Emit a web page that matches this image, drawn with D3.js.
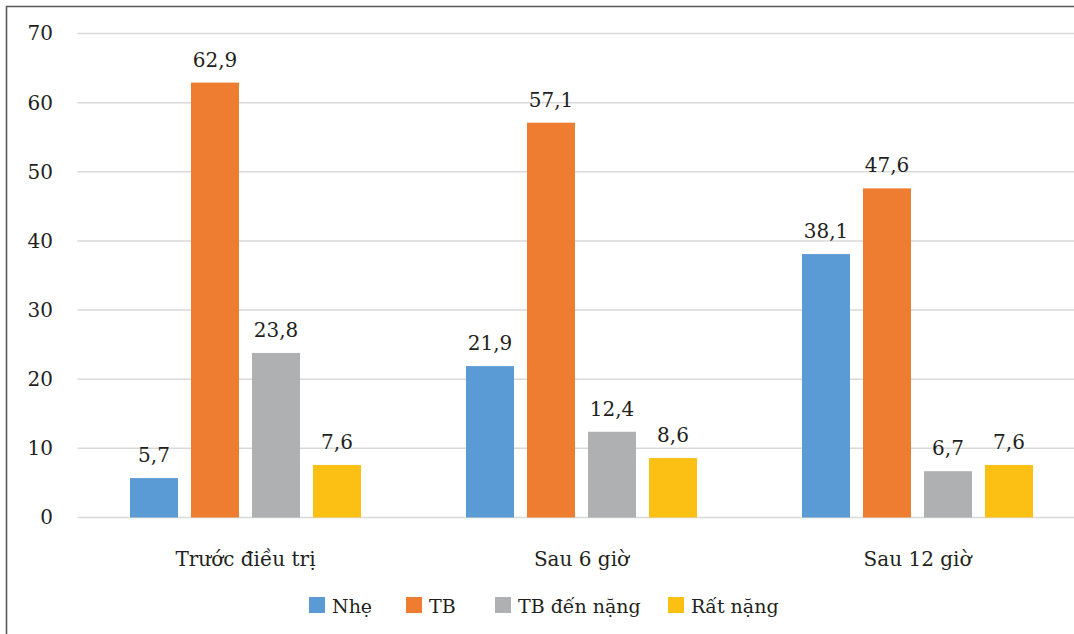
<!DOCTYPE html>
<html>
<head>
<meta charset="utf-8">
<script src="https://cdn.jsdelivr.net/npm/d3@7"></script>
<style>
  html, body { margin: 0; padding: 0; background: #fff; }
  svg { display: block; }
</style>
</head>
<body>
<svg id="chart" width="1074" height="634"></svg>
<script>
// Severity distribution at three time points (%)
const categories = ["Trước điều trị", "Sau 6 giờ", "Sau 12 giờ"];
const seriesNames = ["Nhẹ", "TB", "TB đến nặng", "Rất nặng"];
const seriesColors = ["#5b9bd5", "#ee7d31", "#afb0b2", "#fcc015"];
const nhe = [5.7, 21.9, 38.1];
const tb = [62.9, 57.1, 47.6];
const tbDenNang = [23.8, 12.4, 6.7];
const ratNang = [7.6, 8.6, 7.6];
const yTicks = [0, 10, 20, 30, 40, 50, 60, 70];

const seriesValues = [nhe, tb, tbDenNang, ratNang];
const FONT = "DejaVu Serif";
const FS = 20;
const LEGEND_FS = 19;
const INK = "#231f20";

const svg = d3.select("#chart");
const W = 1074, H = 634;

// Frame
svg.append("path")
  .attr("d", `M6.5,${H} L6.5,6.5 L${W},6.5`)
  .attr("fill", "none")
  .attr("stroke", "#595959")
  .attr("stroke-width", 1.6);

const plot = { left: 77.5, right: 1085.5, top: 33.5, bottom: 517.5 };

const x0 = d3.scaleBand()
  .domain(categories)
  .range([plot.left, plot.right])
  .paddingInner(0)
  .paddingOuter(0);

const barW = 48, barGap = 13;
const groupW = seriesNames.length * barW + (seriesNames.length - 1) * barGap;
const x1 = d3.scaleBand()
  .domain(seriesNames)
  .range([0, groupW])
  .paddingInner(barGap / (barW + barGap))
  .paddingOuter(0);

const y = d3.scaleLinear().domain([0, 70]).range([plot.bottom, plot.top]);

// Gridlines
svg.append("g")
  .selectAll("line")
  .data(yTicks)
  .join("line")
  .attr("x1", plot.left)
  .attr("x2", W)
  .attr("y1", d => y(d))
  .attr("y2", d => y(d))
  .attr("stroke", "#d9d9d9")
  .attr("stroke-width", 1.5);

// Y axis labels
const yAxis = d3.axisLeft(y).tickValues(yTicks).tickSize(0).tickPadding(0);
const yG = svg.append("g")
  .attr("transform", `translate(53,0)`)
  .call(yAxis)
  .attr("font-family", FONT)
  .attr("font-size", FS);
yG.select(".domain").remove();
yG.selectAll("text").attr("fill", INK);

// Bars with value labels
const groups = svg.append("g")
  .attr("font-family", FONT)
  .attr("font-size", FS)
  .attr("fill", INK)
  .selectAll("g")
  .data(categories)
  .join("g")
  .attr("transform", c => `translate(${x0(c) + (x0.bandwidth() - groupW) / 2},0)`);

groups.each(function(c, ci) {
  const g = d3.select(this);
  const rows = seriesNames.map((s, si) => ({ s, si, v: seriesValues[si][ci] }));
  g.selectAll("rect")
    .data(rows)
    .join("rect")
    .attr("x", d => x1(d.s))
    .attr("width", x1.bandwidth())
    .attr("y", d => y(d.v))
    .attr("height", d => y(0) - y(d.v))
    .attr("fill", d => seriesColors[d.si]);
  g.selectAll("text")
    .data(rows)
    .join("text")
    .attr("x", d => x1(d.s) + x1.bandwidth() / 2)
    .attr("y", d => y(d.v) - 16)
    .attr("text-anchor", "middle")
    .text(d => String(d.v).replace(".", ","));
});

// Category labels
const xAxis = d3.axisBottom(x0).tickSize(0).tickPadding(0);
const xG = svg.append("g")
  .attr("transform", `translate(0,${plot.bottom})`)
  .call(xAxis)
  .attr("font-family", FONT)
  .attr("font-size", FS);
xG.select(".domain").remove();
xG.selectAll("text")
  .attr("dy", null)
  .attr("y", 48)
  .attr("fill", INK);

// Legend
const legendX = [309, 406, 495, 668];
const legend = svg.append("g")
  .attr("font-family", FONT)
  .attr("font-size", LEGEND_FS)
  .attr("fill", INK)
  .selectAll("g")
  .data(seriesNames)
  .join("g")
  .attr("transform", (d, i) => `translate(${legendX[i]},597)`);
legend.append("rect")
  .attr("width", 16)
  .attr("height", 16)
  .attr("fill", (d, i) => seriesColors[i]);
legend.append("text")
  .attr("x", 23)
  .attr("y", 16)
  .attr("fill", INK)
  .text(d => d);
</script>
</body>
</html>
